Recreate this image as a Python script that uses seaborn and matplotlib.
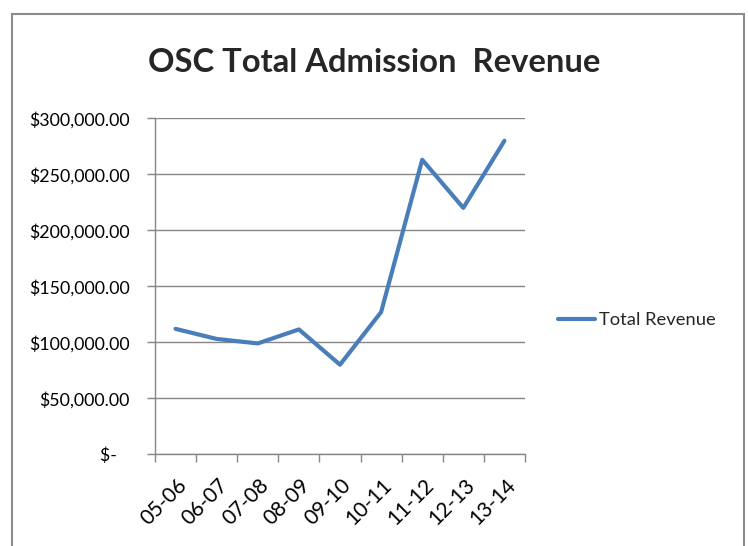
import matplotlib
matplotlib.use("Agg")
import matplotlib.pyplot as plt
import matplotlib.transforms as mtransforms
import seaborn as sns
import pandas as pd
from matplotlib.ticker import FuncFormatter, FixedLocator
from matplotlib.patches import Rectangle

# ========== Data ==========
seasons = ["05-06", "06-07", "07-08", "08-09", "09-10", "10-11", "11-12", "12-13", "13-14"]
revenue = [112000, 103000, 99000, 111500, 80000, 127000, 263000, 220000, 280000]
y_ticks = [0, 50000, 100000, 150000, 200000, 250000, 300000]

df = pd.DataFrame({"season": seasons, "Total Revenue": revenue})

sns.set_theme(style="white")
plt.rcParams["font.family"] = ["Lato", "DejaVu Sans"]

BLUE = "#4A7EBB"
GRID = "#878787"

fig = plt.figure(figsize=(7.48, 5.46), dpi=100)
ax = fig.add_axes([155 / 748, 1 - 454.3 / 546, 370 / 748, 336 / 546])

sns.lineplot(data=df, x="season", y="Total Revenue", ax=ax, color=BLUE,
             linewidth=3, label="Total Revenue", sort=False)

# ========== Axes formatting ==========
ax.set_xlim(-0.5, len(seasons) - 0.5)
ax.set_ylim(0, 300000)
ax.set_yticks(y_ticks)
ax.yaxis.set_major_formatter(FuncFormatter(lambda v, p: "$-   " if v == 0 else f"${v:,.2f}"))
ax.grid(axis="y", color=GRID, linewidth=1)
ax.set_axisbelow(True)

ax.xaxis.set_minor_locator(FixedLocator([i - 0.5 for i in range(len(seasons) + 1)]))
ax.tick_params(axis="x", which="major", length=0, labelsize=15, pad=20, labelcolor="black")
ax.tick_params(axis="x", which="minor", length=6, width=1, color=GRID, direction="out", bottom=True)
ax.tick_params(axis="y", which="major", length=6, width=1, color=GRID, direction="out",
               left=True, labelsize=12.8, labelcolor="black", pad=12)
plt.setp(ax.get_xticklabels(), rotation=45, ha="right", va="center", rotation_mode="anchor")

# nudge rotated labels a bit to the right, like Excel does
shift = mtransforms.ScaledTranslation(0.08, 0, fig.dpi_scale_trans)
for lbl in ax.get_xticklabels():
    lbl.set_transform(lbl.get_transform() + shift)

for side in ["top", "right"]:
    ax.spines[side].set_visible(False)
for side in ["left", "bottom"]:
    ax.spines[side].set_color(GRID)
    ax.spines[side].set_linewidth(1)

ax.set_xlabel("")
ax.set_ylabel("")

# ========== Legend ==========
ax.legend(loc="center left", bbox_to_anchor=(551 / 748, 1 - 320 / 546),
          bbox_transform=fig.transFigure, frameon=False, fontsize=13.2,
          handlelength=2.0, handletextpad=0.2, borderaxespad=0)

# ========== Title and chart frame ==========
fig.text(374 / 748, 1 - 63 / 546, "OSC Total Admission  Revenue", ha="center", va="center",
         fontsize=23.6, fontweight="bold")
fig.patches.append(Rectangle((12 / 748, -0.05), 732 / 748, 1 - 14 / 546 + 0.05,
                             transform=fig.transFigure, fill=False, edgecolor="#8c8c8c",
                             linewidth=1.5))

fig.savefig("out.png", dpi=100)
